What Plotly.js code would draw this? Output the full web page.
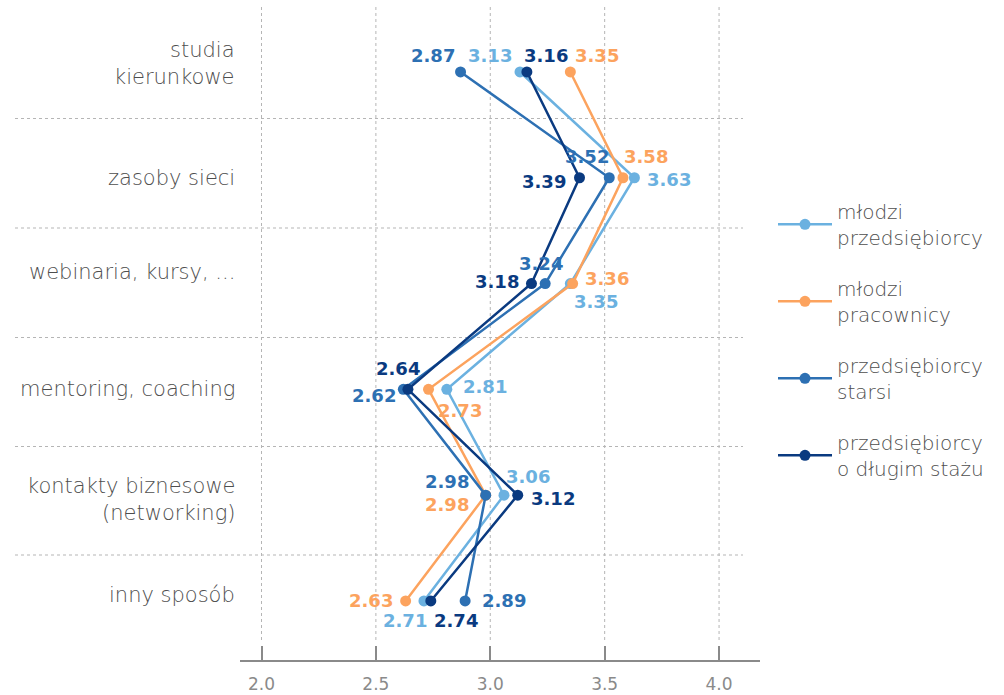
<!DOCTYPE html>
<html>
<head>
<meta charset="utf-8">
<script src="https://cdn.plot.ly/plotly-3.0.1.min.js"></script>
<style>
  html, body { margin: 0; padding: 0; background: #fff; }
  #chart { width: 1004px; height: 695px; }
</style>
</head>
<body>
<div id="chart"></div>
<script>
// Sposoby zdobywania wiedzy – średnie oceny w czterech grupach
const categories = [
  'studia<br>kierunkowe',
  'zasoby sieci',
  'webinaria, kursy, ...',
  'mentoring, coaching',
  'kontakty biznesowe<br>(networking)',
  'inny sposób'
];

const seriesNames = [
  'młodzi<br>przedsiębiorcy',
  'młodzi<br>pracownicy',
  'przedsiębiorcy<br>starsi',
  'przedsiębiorcy<br>o długim stażu'
];

const mlodziPrzedsiebiorcy = [3.13, 3.63, 3.35, 2.81, 3.06, 2.71];
const mlodziPracownicy     = [3.35, 3.58, 3.36, 2.73, 2.98, 2.63];
const przedsiebiorcyStarsi = [2.87, 3.52, 3.24, 2.62, 2.98, 2.89];
const dlugiStaz            = [3.16, 3.39, 3.18, 2.64, 3.12, 2.74];

const xTicks = [2.0, 2.5, 3.0, 3.5, 4.0];

// ---- styling ----
const colors = ['#6bb1e0', '#fca35e', '#2d70b3', '#0a3a80'];
const seriesValues = [mlodziPrzedsiebiorcy, mlodziPracownicy, przedsiebiorcyStarsi, dlugiStaz];

const labelFont = '"DejaVu Sans", "Open Sans", sans-serif';

// label placement per series / category: [xanchor, xshift, yshift]
const labelPlacement = [
  [['right', -6, 16], ['left', 11, -2], ['left', 2, -18], ['left', 14, 3], ['left', 0, 19], ['right', 5, -20]],
  [['left', 3, 16], ['left', -1, 21], ['left', 10, 5], ['left', 7, -21], ['right', -15, -9], ['right', -11, 0]],
  [['right', -4, 16], ['right', 2, 21], ['center', -4, 20], ['right', -5, -6], ['right', -15, 14], ['left', 15, 0]],
  [['left', -5, 16], ['right', -12, -4], ['right', -10, 2], ['center', -10, 21], ['left', 11, -3], ['left', 1, -20]]
];

// vertical offset of each category caption relative to its row
const captionShift = [8, 0, 12, 0, -4, 6];

const idx = categories.map((_, i) => i);

const traces = seriesValues.map((vals, s) => ({
  type: 'scatter',
  mode: 'lines+markers',
  x: vals,
  y: idx,
  name: seriesNames[s],
  legendgroup: 'g' + s,
  line: { color: colors[s], width: 2.5 },
  marker: { color: colors[s], size: 11 },
  hoverinfo: 'x+name'
}));

const annotations = [];
seriesValues.forEach((vals, s) => {
  vals.forEach((v, i) => {
    const p = labelPlacement[s][i];
    annotations.push({
      x: v, y: i, xref: 'x', yref: 'y',
      text: v.toFixed(2),
      showarrow: false,
      xanchor: p[0], yanchor: 'middle',
      xshift: p[1], yshift: p[2],
      font: { family: labelFont, size: 18, weight: 700, color: colors[s] }
    });
  });
});

categories.forEach((c, i) => {
  annotations.push({
    x: 0, y: i, xref: 'paper', yref: 'y',
    text: c, align: 'right',
    showarrow: false,
    xanchor: 'right', yanchor: 'middle',
    xshift: -3, yshift: captionShift[i],
    font: { family: labelFont, size: 21, weight: 200, color: '#4e4e4e' }
  });
});

// plot area geometry (pixels) used for the decorative rules
const plotTop = 7, plotBottom = 660;
const plotH = plotBottom - plotTop;
const toPaper = px => 1 - (px - plotTop) / plotH;
const separatorPx = [118.5, 228, 337.5, 446.5, 555];

const shapes = [];
xTicks.forEach(t => {
  shapes.push({
    type: 'line', xref: 'x', yref: 'paper',
    x0: t, x1: t, y0: toPaper(640), y1: 1,
    line: { color: '#b5b5b5', width: 1, dash: 'dot' },
    layer: 'below'
  });
});
separatorPx.forEach(py => {
  shapes.push({
    type: 'line', xref: 'paper', yref: 'paper',
    x0: (15 - 240) / 520, x1: (743 - 240) / 520,
    y0: toPaper(py), y1: toPaper(py),
    line: { color: '#b5b5b5', width: 1, dash: 'dot' },
    layer: 'below'
  });
});

const layout = {
  width: 1004, height: 695,
  margin: { l: 240, r: 244, t: plotTop, b: 695 - plotBottom },
  paper_bgcolor: '#ffffff',
  plot_bgcolor: '#ffffff',
  showlegend: true,
  legend: {
    x: 1.025, xanchor: 'left',
    y: 0.717, yanchor: 'top',
    tracegroupgap: 22,
    itemwidth: 54,
    font: { family: labelFont, size: 20, weight: 200, color: '#4e4e4e' }
  },
  xaxis: {
    range: [1.906, 4.179],
    tickvals: xTicks,
    ticktext: xTicks.map(t => t.toFixed(1)),
    ticks: 'inside', ticklen: 14, tickwidth: 1.5, tickcolor: '#8a8a8a',
    ticklabelstandoff: 8,
    showline: true, linecolor: '#8a8a8a', linewidth: 1.5,
    showgrid: false, zeroline: false,
    tickfont: { family: labelFont, size: 17, color: '#8a8a8a' },
    fixedrange: true
  },
  yaxis: {
    range: [5.558, -0.614],
    showticklabels: false, showgrid: false, zeroline: false, showline: false,
    fixedrange: true
  },
  shapes: shapes,
  annotations: annotations
};

Plotly.newPlot('chart', traces, layout, { displayModeBar: false, responsive: false });
</script>
</body>
</html>
